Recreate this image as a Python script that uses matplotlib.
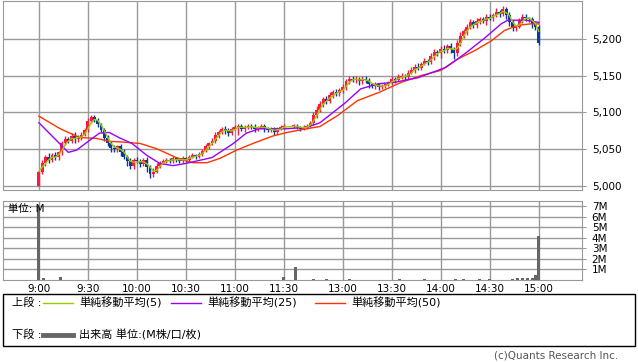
import numpy as np
import pandas as pd
import matplotlib
matplotlib.use('Agg')
import matplotlib.pyplot as plt
from matplotlib.patches import Rectangle
from matplotlib.lines import Line2D
from matplotlib.ticker import FuncFormatter

plt.rcParams['font.family'] = ['DejaVu Sans', 'Noto Sans CJK JP']

# 2分足の終値 (前場 9:00-11:30, 後場 12:30-15:00)
first_open = 5000
am_close = [5020, 5032, 5040, 5036, 5042, 5040, 5046, 5058, 5064, 5062,
            5068, 5064, 5066, 5070, 5076, 5088, 5094, 5090, 5084, 5076,
            5066, 5058, 5052, 5050, 5054, 5046, 5040, 5034, 5028, 5036,
            5034, 5030, 5036, 5026, 5016, 5020, 5028, 5032, 5034, 5036,
            5034, 5038, 5036, 5034, 5038, 5036, 5040, 5042, 5040, 5044,
            5048, 5054, 5058, 5062, 5070, 5074, 5078, 5076, 5072, 5078,
            5080, 5082, 5078, 5080, 5082, 5080, 5078, 5080, 5082, 5078,
            5076, 5078, 5074, 5078, 5080, 5082]
pm_close = [5082, 5080, 5078, 5080, 5082, 5086, 5096, 5104, 5112, 5118,
            5116, 5124, 5128, 5126, 5130, 5134, 5142, 5146, 5144, 5146,
            5142, 5146, 5144, 5138, 5136, 5138, 5134, 5136, 5138, 5140,
            5146, 5144, 5148, 5150, 5148, 5154, 5158, 5162, 5160, 5166,
            5170, 5168, 5176, 5182, 5180, 5186, 5184, 5190, 5186, 5180,
            5194, 5204, 5210, 5216, 5222, 5218, 5224, 5226, 5224, 5230,
            5228, 5232, 5236, 5234, 5240, 5232, 5222, 5214, 5216, 5224,
            5230, 5228, 5226, 5220, 5216, 5194]

# ヒゲの長さ (実体の上 / 下, 円)
am_up = [2, 4, 3, 5, 3, 4, 2, 3, 4, 3, 4, 5, 3, 4, 3, 4, 3, 2, 3, 2,
         3, 4, 3, 4, 2, 3, 4, 3, 5, 3, 4, 3, 2, 4, 3, 5, 3, 2, 3, 2,
         2, 3, 2, 2, 3, 2, 2, 3, 2, 3, 2, 3, 2, 3, 4, 2, 3, 4, 3, 2,
         3, 2, 2, 3, 2, 3, 4, 2, 3, 2, 3, 2, 3, 2, 3, 2]
am_dn = [0, 3, 5, 4, 3, 5, 4, 3, 2, 4, 3, 6, 4, 3, 2, 3, 2, 3, 4, 3,
         5, 4, 6, 3, 4, 5, 3, 6, 4, 5, 3, 4, 3, 6, 5, 3, 2, 3, 2, 3,
         2, 2, 3, 2, 2, 3, 2, 2, 3, 2, 3, 2, 3, 2, 3, 4, 3, 5, 4, 3,
         2, 10, 3, 4, 2, 3, 4, 3, 2, 4, 3, 2, 4, 3, 2, 3]
pm_up = [2, 3, 2, 3, 2, 3, 4, 5, 4, 3, 5, 4, 3, 4, 3, 5, 4, 3, 4, 3,
         2, 3, 4, 3, 2, 3, 2, 3, 2, 3, 3, 2, 4, 3, 2, 3, 4, 3, 5, 3,
         4, 3, 5, 4, 3, 4, 5, 3, 4, 3, 4, 5, 3, 4, 5, 3, 4, 3, 4, 3,
         4, 3, 5, 3, 4, 3, 4, 3, 2, 4, 3, 4, 2, 3, 2, 2]
pm_dn = [3, 2, 3, 2, 3, 2, 3, 4, 3, 5, 4, 3, 5, 4, 3, 4, 3, 4, 3, 4,
         5, 3, 4, 5, 3, 4, 3, 2, 3, 2, 3, 4, 2, 3, 4, 3, 2, 4, 3, 3,
         2, 4, 3, 5, 3, 6, 4, 3, 6, 8, 3, 4, 3, 5, 3, 4, 3, 4, 3, 5,
         3, 4, 3, 4, 3, 6, 5, 4, 3, 2, 3, 4, 3, 5, 4, 3]

# 移動平均 (25, 50) 読み取り値
ma25_slot = [0, 18, 23, 37, 43, 49, 57, 66, 74, 82, 90, 98, 106, 119, 127, 135,
             146, 152, 164, 172, 187, 197, 208, 218, 232, 249, 261, 273, 283,
             287, 298, 306]
ma25_val = [5086, 5046, 5049, 5072, 5073, 5066, 5058, 5042, 5031, 5028, 5031,
            5035, 5039, 5058, 5072, 5078, 5078, 5078, 5080, 5086, 5112, 5132,
            5139, 5141, 5147, 5161, 5180, 5201, 5220, 5225, 5225, 5222]
ma50_slot = [0, 13, 25, 35, 43, 51, 62, 72, 84, 94, 103, 111, 121, 131, 143,
             152, 164, 172, 183, 195, 208, 222, 234, 246, 257, 267, 277, 285,
             293, 301, 306]
ma50_val = [5095, 5078, 5066, 5065, 5061, 5060, 5058, 5051, 5039, 5032, 5032,
            5038, 5049, 5058, 5068, 5073, 5078, 5081, 5096, 5116, 5127, 5141,
            5150, 5157, 5173, 5184, 5197, 5211, 5218, 5220, 5220]

# 出来高 (M)
vol_slot = [0, 3, 13, 150, 157, 168, 176, 190, 221, 236, 255, 260, 270, 276,
            290, 293, 296, 299, 302, 304, 306]
vol_m = [7.0, 0.22, 0.25, 0.3, 1.25, 0.1, 0.1, 0.08, 0.08, 0.08, 0.1, 0.1,
         0.08, 0.08, 0.12, 0.15, 0.15, 0.18, 0.2, 0.5, 4.2]

tick_slots = [0, 30, 60, 90, 120, 150, 186, 216, 246, 276, 306]
tick_labels = ['9:00', '9:30', '10:00', '10:30', '11:00', '11:30',
               '13:00', '13:30', '14:00', '14:30', '15:00']

x = np.concatenate([np.arange(0, 151, 2), np.arange(156, 307, 2)])
close = np.array(am_close + pm_close, dtype=float)
opn = np.concatenate([[first_open], close[:-1]])
hi = np.maximum(opn, close) + np.array(am_up + pm_up)
lo = np.minimum(opn, close) - np.array(am_dn + pm_dn)
ma5 = pd.Series(close).rolling(3, min_periods=1).mean()

fig = plt.figure(figsize=(6.38, 3.62), dpi=100)
ax1 = fig.add_axes([3/638, 172/362, 579/638, 189/362])
ax2 = fig.add_axes([3/638, 82/362, 579/638, 79/362])

grid_c = '#999999'
for ax in (ax1, ax2):
    ax.set_xlim(-22, 332.5)
    ax.set_xticks(tick_slots)
    ax.grid(True, color=grid_c, lw=1)
    ax.set_axisbelow(True)
    for s in ax.spines.values():
        s.set_color(grid_c)
    ax.yaxis.tick_right()
    ax.tick_params(axis='y', length=3, color=grid_c, labelsize=7.5, pad=4)

# ローソク足
h = close - opn
cols = np.where(h >= 0, '#ff1744', '#0a3a9c')
h = np.where(np.abs(h) < 0.5, 0.8, h)
ax1.vlines(x, lo, hi, colors=cols, lw=1, zorder=3)
ax1.bar(x, h, bottom=opn, width=1.8, color=cols, linewidth=0, zorder=3)
ax1.plot(ma50_slot, ma50_val, color='#ff3300', lw=1, zorder=4)
ax1.plot(ma25_slot, ma25_val, color='#9900ff', lw=1, zorder=4)
ax1.plot(x, ma5, color='#99cc00', lw=1, zorder=5)
ax1.set_ylim(4995, 5251)
ax1.set_yticks([5000, 5050, 5100, 5150, 5200])
ax1.yaxis.set_major_formatter(FuncFormatter(lambda v, p: f'{v:,.0f}'))
ax1.tick_params(axis='x', length=0, labelbottom=False)

# 出来高
ax2.bar(vol_slot, vol_m, width=1.8, color='#666666', zorder=3)
ax2.set_ylim(0, 7.47)
ax2.set_yticks(range(1, 8))
ax2.set_yticklabels([f'{i}M' for i in range(1, 8)])
ax2.set_xticklabels(tick_labels)
ax2.tick_params(axis='x', length=0, labelsize=7.5, pad=3)
fig.text(8/638, (362-209)/362, '単位: M', fontsize=7.5, va='center')

# 凡例
fig.add_artist(Rectangle((3/638, 16/362), 632/638, 52/362, transform=fig.transFigure,
                         fill=False, ec='black', lw=1))
y1 = (362-303)/362
y2 = (362-335)/362
fs = 8
fig.text(12/638, y1, '上段 :', fontsize=fs, va='center')
for x0, c, lab in [(43, '#99cc00', '単純移動平均(5)'),
                   (171, '#9900ff', '単純移動平均(25)'),
                   (315, '#ff3300', '単純移動平均(50)')]:
    fig.add_artist(Line2D([x0/638, (x0+30)/638], [y1, y1], color=c, lw=1,
                          transform=fig.transFigure))
    fig.text((x0+36)/638, y1, lab, fontsize=fs, va='center')
fig.text(12/638, y2, '下段 :', fontsize=fs, va='center')
fig.add_artist(Line2D([43/638, 73/638], [y2, y2], color='#666666', lw=3.5,
                      transform=fig.transFigure))
fig.text(79/638, y2, '出来高 単位:(M株/口/枚)', fontsize=fs, va='center')

fig.text(618/638, (362-356)/362, '(c)Quants Research Inc.', fontsize=7.5,
         color='#555555', ha='right', va='center')

fig.savefig('out.png', dpi=100)
